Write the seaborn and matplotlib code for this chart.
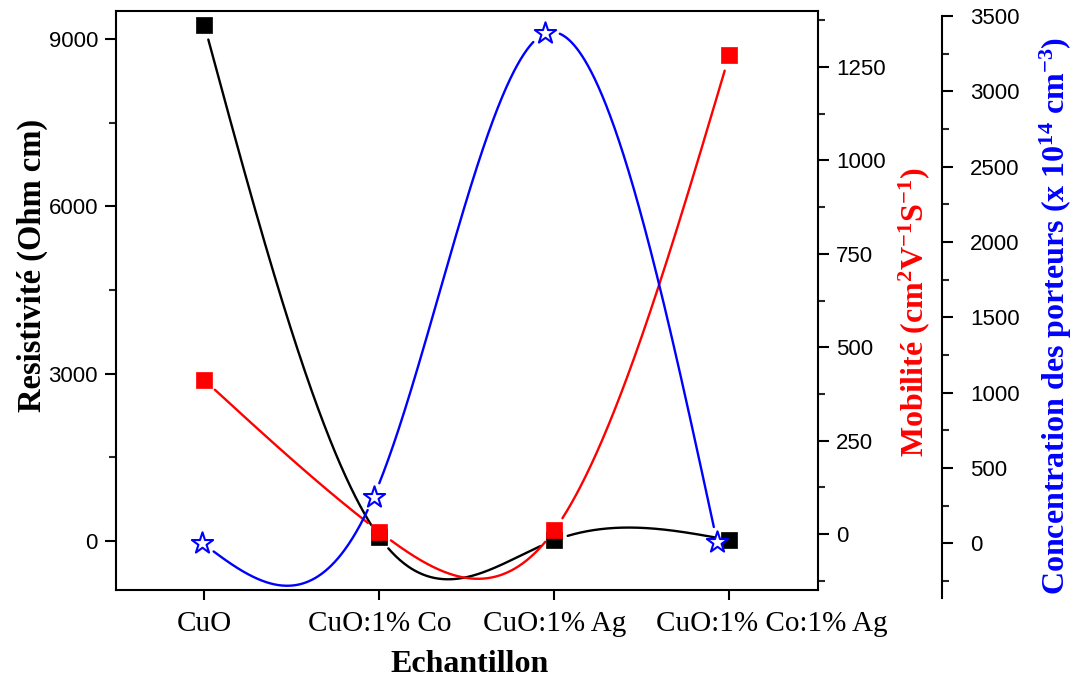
import numpy as np
import pandas as pd
import matplotlib
matplotlib.use("Agg")
import matplotlib.pyplot as plt
from matplotlib.ticker import MultipleLocator, FixedLocator, FixedFormatter
import seaborn as sns

categories = ["CuO", "CuO:1% Co", "CuO:1% Ag", "CuO:1% Co:1% Ag"]
resistivity = [9250, 70, 10, 15]        # Ohm cm
mobility = [412, 6, 10, 1282]           # cm2 V-1 S-1
concentration = [5, 310, 3385, 10]      # x 1e14 cm-3

sns.set_theme(style="white")
plt.rcParams["font.family"] = ["Liberation Serif", "DejaVu Serif"]
plt.rcParams["mathtext.fontset"] = "custom"
plt.rcParams["mathtext.rm"] = "Liberation Serif:bold"
plt.rcParams["mathtext.bf"] = "Liberation Serif:bold"
plt.rcParams["mathtext.it"] = "Liberation Serif:bold"

W_PX, H_PX = 1074, 679
fig = plt.figure(figsize=(W_PX / 100, H_PX / 100), dpi=100)


def rect(l, t, r, b):
    return [l / W_PX, (H_PX - b) / H_PX, (r - l) / W_PX, (b - t) / H_PX]


ax = fig.add_axes(rect(116, 11, 818, 590))
ax2 = ax.twinx()
ax3 = fig.add_axes(rect(116, 16, 818, 598))
ax3.patch.set_visible(False)

x = np.arange(len(categories))


def set_limits():
    ax.set_xlim(-0.505, 3.507)
    ax2.set_xlim(-0.505, 3.507)
    ax3.set_xlim(-0.501, 3.588)
    ax.set_ylim(-880, 9500)
    ax2.set_ylim(-150, 1400)
    ax3.set_ylim(-362, 3500)


set_limits()


def natural_spline(xk, yk, xs):
    xk = np.asarray(xk, float)
    yk = np.asarray(yk, float)
    n = len(xk)
    h = np.diff(xk)
    A = np.zeros((n, n))
    rhs = np.zeros(n)
    A[0, 0] = 1
    A[-1, -1] = 1
    for i in range(1, n - 1):
        A[i, i - 1] = h[i - 1]
        A[i, i] = 2 * (h[i - 1] + h[i])
        A[i, i + 1] = h[i]
        rhs[i] = 6 * ((yk[i + 1] - yk[i]) / h[i] - (yk[i] - yk[i - 1]) / h[i - 1])
    M = np.linalg.solve(A, rhs)
    idx = np.clip(np.searchsorted(xk, xs) - 1, 0, n - 2)
    x0, x1 = xk[idx], xk[idx + 1]
    hh = x1 - x0
    a = (x1 - xs) / hh
    b = (xs - x0) / hh
    return (M[idx] * (x1 - xs) ** 3 / (6 * hh) + M[idx + 1] * (xs - x0) ** 3 / (6 * hh)
            + (yk[idx] - M[idx] * hh ** 2 / 6) * a + (yk[idx + 1] - M[idx + 1] * hh ** 2 / 6) * b)


def curve_frame(axis, yk, radius=14):
    xs = np.linspace(0, len(yk) - 1, 800)
    ys = natural_spline(x, yk, xs)
    disp = axis.transData.transform(np.column_stack([xs, ys]))
    pts = axis.transData.transform(np.column_stack([x, yk]))
    d = np.min(np.hypot(disp[:, None, 0] - pts[None, :, 0],
                        disp[:, None, 1] - pts[None, :, 1]), axis=1)
    keep = d > radius
    seg = np.cumsum(np.r_[True, keep[1:] != keep[:-1]])
    return pd.DataFrame({"x": xs[keep], "y": ys[keep], "seg": seg[keep]})


black, red, blue = "#000000", "#FF0000", "#0000FF"

for axis, vals, col in [(ax, resistivity, black), (ax2, mobility, red), (ax3, concentration, blue)]:
    df = curve_frame(axis, vals)
    sns.lineplot(data=df, x="x", y="y", units="seg", estimator=None, sort=False,
                 color=col, lw=1.7, ax=axis, legend=False)

sns.scatterplot(x=x, y=resistivity, marker="s", s=135, color=black, edgecolor=black,
                linewidth=0.5, ax=ax, zorder=5, legend=False)
sns.scatterplot(x=x, y=mobility, marker="s", s=135, color=red, edgecolor=red,
                linewidth=0.5, ax=ax2, zorder=5, legend=False)
sns.scatterplot(x=x, y=concentration, marker="*", s=260, facecolor="white", edgecolor=blue,
                linewidth=1.5, ax=ax3, zorder=5, legend=False)

set_limits()

lw_sp = 1.5
# main axis
for s in ["left", "bottom", "top"]:
    ax.spines[s].set_visible(True)
    ax.spines[s].set_color(black)
    ax.spines[s].set_linewidth(lw_sp)
ax.spines["right"].set_visible(False)
# category ticks; the last label sits a little to the right of its tick, as in the original
ax.xaxis.set_major_locator(FixedLocator(list(x)))
ax.xaxis.set_major_formatter(FixedFormatter(categories[:-1] + [""]))
ax.xaxis.set_minor_locator(FixedLocator([x[-1] + 0.24]))
ax.xaxis.set_minor_formatter(FixedFormatter([categories[-1]]))
ax.tick_params(axis="x", which="both", labelsize=21, bottom=True, colors=black)
ax.tick_params(axis="x", which="major", direction="out", length=7, width=1.5, pad=8)
ax.tick_params(axis="x", which="minor", direction="out", length=0, width=0, pad=15)
for lab in ax.get_xticklabels(which="both"):
    lab.set_family("Liberation Serif")
ax.yaxis.set_major_locator(MultipleLocator(3000))
ax.yaxis.set_minor_locator(MultipleLocator(1500))
ax.tick_params(axis="y", which="major", direction="out", length=8, width=1.5,
               labelsize=16, pad=5, left=True, colors=black)
ax.tick_params(axis="y", which="minor", direction="out", length=5, width=1.5, left=True)
for lab in ax.get_yticklabels():
    lab.set_family("Liberation Sans")
ax.set_xlabel("Echantillon", fontsize=23, fontweight="bold", color=black)
ax.set_ylabel("Resistivité (Ohm cm)", fontsize=23.5, fontweight="bold", color=black)
ax.xaxis.set_label_coords(0.504, -0.103)
ax.yaxis.set_label_coords(-0.097, 0.56)
ax.grid(False)

# mobility axis
for s in ["left", "bottom", "top"]:
    ax2.spines[s].set_visible(False)
ax2.spines["right"].set_color(black)
ax2.spines["right"].set_linewidth(lw_sp)
ax2.yaxis.set_major_locator(MultipleLocator(250))
ax2.yaxis.set_minor_locator(MultipleLocator(125))
ax2.tick_params(axis="y", which="major", direction="out", length=8, width=1.5,
                labelsize=16, pad=5, right=True, colors=black)
ax2.tick_params(axis="y", which="minor", direction="out", length=5, width=1.5, right=True)
for lab in ax2.get_yticklabels():
    lab.set_family("Liberation Sans")
ax2.set_ylabel(r"Mobilité (cm$^{2}$V$^{-1}$S$^{-1}$)", fontsize=23, fontweight="bold", color=red)
ax2.yaxis.set_label_coords(1.112, 0.48)
ax2.grid(False)

# concentration axis
for s in ["left", "bottom", "top"]:
    ax3.spines[s].set_visible(False)
ax3.spines["right"].set_position(("axes", (942 - 116) / 702))
ax3.spines["right"].set_color(black)
ax3.spines["right"].set_linewidth(lw_sp)
ax3.yaxis.tick_right()
ax3.yaxis.set_label_position("right")
ax3.xaxis.set_visible(False)
ax3.yaxis.set_major_locator(MultipleLocator(500))
ax3.yaxis.set_minor_locator(MultipleLocator(250))
ax3.tick_params(axis="y", which="major", direction="out", length=8, width=1.5,
                labelsize=16, pad=12, right=True, left=False, colors=black)
ax3.tick_params(axis="y", which="minor", direction="out", length=5, width=1.5, right=True, left=False)
for lab in ax3.get_yticklabels():
    lab.set_family("Liberation Sans")
ax3.set_ylabel(r"Concentration des porteurs (x 10$^{14}$ cm$^{-3}$)", fontsize=23,
               fontweight="bold", color=blue)
ax3.yaxis.set_label_coords(1.313, 0.485)
ax3.grid(False)

fig.savefig("out.png", dpi=100)
